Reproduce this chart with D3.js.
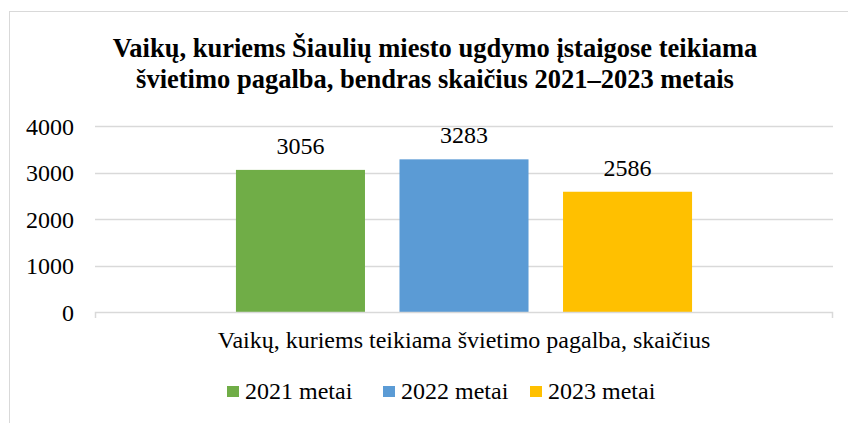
<!DOCTYPE html>
<html>
<head>
<meta charset="utf-8">
<script src="https://cdn.jsdelivr.net/npm/d3@7"></script>
<style>
  body { margin: 0; background: #fff; }
</style>
</head>
<body>
<div id="chart"></div>
<script>
var titleLines = ["Vaikų, kuriems Šiaulių miesto ugdymo įstaigose teikiama",
	"švietimo pagalba, bendras skaičius 2021–2023 metais"];
var categories = ["Vaikų, kuriems teikiama švietimo pagalba, skaičius"];
var seriesNames = ["2021 metai", "2022 metai", "2023 metai"];
var seriesValues = [3056, 3283, 2586];
var seriesColors = ["#70ad47", "#5b9bd5", "#ffc000"];
var yTicks = [0, 1000, 2000, 3000, 4000];

var width = 848, height = 423;
var plot = {left: 95, right: 833, top: 126, bottom: 312};
var serif = "'Liberation Serif', 'Times New Roman', serif";

var svg = d3.select("#chart").append("svg")
	.attr("width", width).attr("height", height)
	.style("font-family", serif);

// outer chart border (cut off at right and bottom like the reference)
svg.append("rect")
	.attr("x", 9.5).attr("y", 11.5)
	.attr("width", 900).attr("height", 500)
	.attr("fill", "none").attr("stroke", "#d9d9d9");

svg.selectAll(".title").data(titleLines).enter().append("text")
	.attr("class", "title")
	.attr("x", 435).attr("y", function(d, i){ return 57 + i * 31; })
	.attr("text-anchor", "middle")
	.style("font-family", serif)
	.style("font-weight", "bold").style("font-size", "26.5px")
	.text(function(d){ return d; });

var y = d3.scaleLinear().domain([0, 4000]).range([plot.bottom, plot.top]);
var x0 = d3.scaleBand().domain(categories).range([plot.left, plot.right])
	.paddingInner(0).paddingOuter(0.309);
var x1 = d3.scaleBand().domain(seriesNames).range([0, x0.bandwidth()])
	.paddingInner(0.211).paddingOuter(0);

// gridlines
svg.append("g").selectAll("line").data(yTicks.filter(function(d){ return d > 0; }))
	.enter().append("line")
	.attr("x1", plot.left).attr("x2", plot.right)
	.attr("y1", function(d){ return Math.round(y(d)) + 0.5; })
	.attr("y2", function(d){ return Math.round(y(d)) + 0.5; })
	.attr("stroke", "#d9d9d9").attr("stroke-width", 1.5);

// y axis labels
var yAxis = d3.axisLeft(y).tickValues(yTicks).tickFormat(d3.format("d"))
	.tickSize(0).tickPadding(21);
var yg = svg.append("g").attr("transform", "translate(" + plot.left + ",0)").call(yAxis);
yg.attr("font-family", null).attr("font-size", null);
yg.select(".domain").remove();
yg.selectAll("text").style("font-size", "24px")
	.style("font-family", serif).attr("fill", "#000").attr("dy", "0.34em");

// bars
var groups = svg.append("g").selectAll("g").data(categories).enter().append("g")
	.attr("transform", function(d){ return "translate(" + x0(d) + ",0)"; });

groups.selectAll("rect").data(seriesValues).enter().append("rect")
	.attr("x", function(d, i){ return x1(seriesNames[i]); })
	.attr("y", function(d){ return y(d); })
	.attr("width", x1.bandwidth())
	.attr("height", function(d){ return y(0) - y(d); })
	.attr("fill", function(d, i){ return seriesColors[i]; });

groups.selectAll(".val").data(seriesValues).enter().append("text")
	.attr("class", "val")
	.attr("x", function(d, i){ return x1(seriesNames[i]) + x1.bandwidth() / 2; })
	.attr("y", function(d){ return y(d) - 16; })
	.attr("text-anchor", "middle")
	.style("font-family", serif).style("font-size", "24px")
	.text(function(d){ return d; });

// x axis
var xg = svg.append("g").attr("transform", "translate(0," + plot.bottom + ")");
xg.append("path")
	.attr("d", "M" + (plot.left + 0.5) + ",6V0.5H" + (plot.right - 0.5) + "V6")
	.attr("fill", "none").attr("stroke", "#d9d9d9").attr("stroke-width", 1.5);
xg.selectAll("text").data(categories).enter().append("text")
	.attr("x", function(d){ return x0(d) + x0.bandwidth() / 2; })
	.attr("y", 36)
	.attr("text-anchor", "middle")
	.style("font-family", serif).style("font-size", "24px")
	.text(function(d){ return d; });

// legend
var legendX = [227, 383, 530];
var legend = svg.append("g").selectAll("g").data(seriesNames).enter().append("g")
	.attr("transform", function(d, i){ return "translate(" + legendX[i] + ",399)"; });
legend.append("rect").attr("x", 0).attr("y", -13).attr("width", 12).attr("height", 11)
	.attr("fill", function(d, i){ return seriesColors[i]; });
legend.append("text").attr("x", 18).attr("y", 0)
	.style("font-family", serif).style("font-size", "24px")
	.text(function(d){ return d; });
</script>
</body>
</html>
